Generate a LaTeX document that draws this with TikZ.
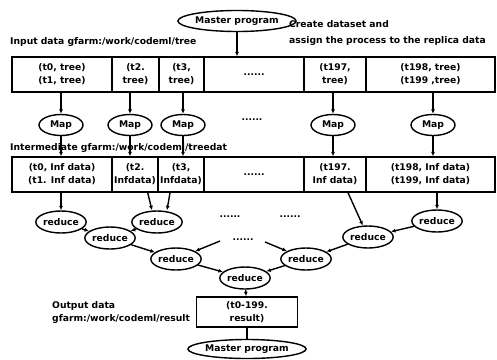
\documentclass[tikz,border=0pt]{standalone}
\usepackage{fontspec}
\setmainfont{DejaVu Sans}
\usetikzlibrary{shapes.geometric,arrows.meta}

\tikzset{
  every node/.style={font=\fontsize{9.2}{13}\selectfont\bfseries},
  cell/.style={draw,line width=1.4pt,rectangle,minimum height=35pt,inner sep=0pt,align=center},
  mastnode/.style={draw,line width=1.4pt,ellipse,minimum width=100pt,minimum height=21pt,inner sep=0pt},
  mapnode/.style={draw,line width=1.4pt,ellipse,minimum width=44pt,minimum height=21pt,inner sep=0pt},
  rednode/.style={draw,line width=1.4pt,ellipse,minimum width=47pt,minimum height=22pt,inner sep=0pt},
  lbl/.style={anchor=west,align=left,inner sep=0pt},
  arr/.style={line width=1.4pt,-{Latex[length=4.5pt,width=4pt]}}
}

\begin{document}
\begin{tikzpicture}[x=1pt,y=-1pt]
  \useasboundingbox (0,0) rectangle (497,359);

  \node [mastnode,minimum width=104pt] (master) at (237,21) {Master program};
  \node [lbl] (create) at (289,33) {Create dataset and\\[3pt]assign the process to the replica data};
  \node [lbl] (inlbl) at (10,42) {Input data gfarm:/work/codeml/tree};

  % input data
  \node [cell,minimum width=100pt] (in1) at (62,74.5) {(t0, tree)\\(t1, tree)};
  \node [cell,minimum width=47pt] (in2) at (135.5,74.5) {(t2.\\tree)};
  \node [cell,minimum width=45pt] (in3) at (181.5,74.5) {(t3,\\tree)};
  \node [cell,minimum width=100pt] (in4) at (254,74.5) {......};
  \node [cell,minimum width=62pt] (in5) at (335,74.5) {(t197,\\tree)};
  \node [cell,minimum width=129pt] (in6) at (430.5,74.5) {(t198, tree)\\(t199 ,tree)};

  \node [mapnode] (map1) at (61,125) {Map};
  \node [mapnode] (map2) at (130,125) {Map};
  \node [mapnode] (map3) at (183,125) {Map};
  \node (mapdots) at (252,120) {......};
  \node [mapnode] (map4) at (333,125) {Map};
  \node [mapnode] (map5) at (433,125) {Map};

  \node [lbl] (midlbl) at (10,148) {Intermediate gfarm:/work/codeml/treedat};

  % intermediate data
  \node [cell,minimum width=100pt] (mid1) at (62,174.5) {(t0, Inf data)\\(t1. Inf data)};
  \node [cell,minimum width=46pt] (mid2) at (135,174.5) {(t2.\\Infdata)};
  \node [cell,minimum width=46pt] (mid3) at (181,174.5) {(t3,\\Infdata)};
  \node [cell,minimum width=100pt] (mid4) at (254,174.5) {......};
  \node [cell,minimum width=62pt] (mid5) at (335,174.5) {(t197.\\Inf data)};
  \node [cell,minimum width=129pt] (mid6) at (430.5,174.5) {(t198, Inf data)\\(t199, Inf data)};

  \node [rednode] (red1) at (61,222) {reduce};
  \node [rednode] (red2) at (110,238) {reduce};
  \node [rednode] (red3) at (157,222) {reduce};
  \node [rednode] (red4) at (176,259) {reduce};
  \node [rednode] (red5) at (245,278) {reduce};
  \node [rednode] (red6) at (368,237) {reduce};
  \node [rednode] (red7) at (437,221) {reduce};
  \node [rednode] (red8) at (306,259) {reduce};
  \node (dots1) at (230,217) {......};
  \node (dots2) at (290,217) {......};
  \node (dots3) at (243,240) {......};
  \coordinate (c1) at (220,241);
  \coordinate (c2) at (265,242);

  \node [cell,minimum width=101pt,minimum height=30pt] (out) at (247,312) {(t0-199.\\result)};
  \node [lbl] (outlbl) at (52,312) {Output data\\gfarm:/work/codeml/result};
  \node [mastnode,minimum height=19pt] (master2) at (247,349) {Master program};

  \draw [arr] (master) -- (master |- in4.north);
  \foreach \m/\i/\j in {map1/in1/mid1,map2/in2/mid2,map3/in3/mid3,map4/in5/mid5,map5/in6/mid6}
  {
    \draw [arr] (\m |- \i.south) -- (\m);
    \draw [arr] (\m) -- (\m |- \j.north);
  }
  \draw [arr] (red1 |- mid1.south) -- (red1);
  \draw [arr] ([xshift=-11pt]mid2.south east) -- ([xshift=-5pt]red3.north);
  \draw [arr] ([xshift=-11pt]mid3.south) -- ([xshift=10pt]red3.north);
  \draw [arr] (red1) -- (red2);
  \draw [arr] (red3) -- (red2);
  \draw [arr] (red2) -- (red4);
  \draw [arr] (c1) -- (red4);
  \draw [arr] (red4) -- (red5);
  \draw [arr] ([xshift=13pt]mid5.south) -- (red6);
  \draw [arr] (red7 |- mid6.south) -- (red7);
  \draw [arr] (red7) -- (red6);
  \draw [arr] (red6) -- (red8);
  \draw [arr] (c2) -- (red8);
  \draw [arr] (red8) -- (red5);
  \draw [arr] (red5) -- (out);
  \draw [line width=1.4pt] (out) -- (master2);
\end{tikzpicture}
\end{document}
